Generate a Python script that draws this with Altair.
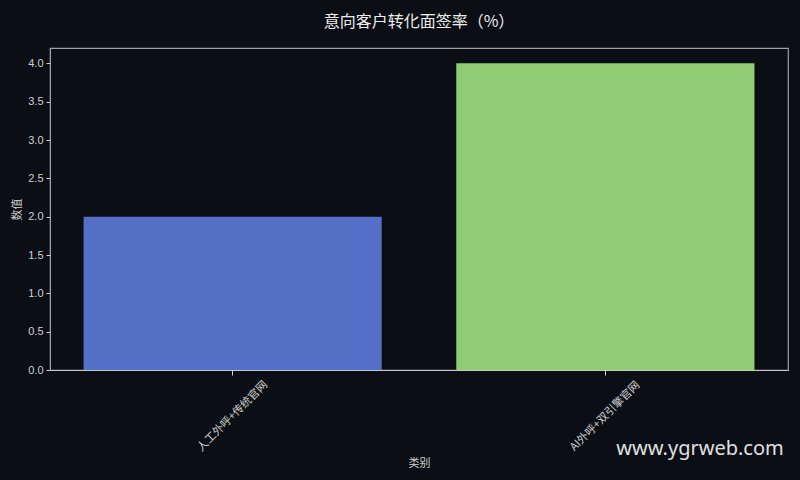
import altair as alt
import pandas as pd
import jinja2

categories = ["人工外呼+传统官网", "AI外呼+双引擎官网"]
values = [2.0, 4.0]
colors = ["#5470c6", "#91cc75"]
y_ticks = [0, 0.5, 1, 1.5, 2, 2.5, 3, 3.5, 4]

df = pd.DataFrame({"类别": categories, "数值": values})

BG = "#0b0e14"
FG = "#d0d0d0"
CJK = "Noto Sans CJK SC"

bars = alt.Chart(df).mark_bar().encode(
    x=alt.X("类别:N", sort=categories,
            scale=alt.Scale(paddingInner=0.2, paddingOuter=0.09),
            axis=alt.Axis(title="类别", labelAngle=-45, labelAlign="center", labelBaseline="middle",
                          labelFont=CJK, labelFontSize=11,
                          labelColor=FG, titleFont=CJK, titleFontSize=11, titleColor=FG,
                          titleFontWeight="normal", tickColor=FG, domainColor="#c8c8c8",
                          tickSize=5, labelPadding=41, titlePadding=5)),
    y=alt.Y("数值:Q", scale=alt.Scale(domain=[0, 4.2], nice=False),
            axis=alt.Axis(title="数值", values=y_ticks, format=".1f",
                          labelFont="Liberation Sans", labelFontSize=11, labelColor=FG,
                          titleFont=CJK, titleFontSize=11, titleColor=FG, titleFontWeight="normal",
                          tickColor=FG, domainColor="#a0a0a0", grid=False, tickSize=4,
                          labelPadding=3, titlePadding=5)),
    color=alt.Color("类别:N", scale=alt.Scale(domain=categories, range=colors), legend=None),
)

mark_text = alt.Chart(pd.DataFrame({"t": ["www.ygrweb.com"]})).mark_text(
    font="Noto Sans", fontSize=20, color="#e0e0e0", align="center", baseline="middle"
).encode(text="t:N", x=alt.value(650), y=alt.value(401))

chart = alt.layer(bars, mark_text).properties(
    width=738, height=322,
    background=BG,
    padding={"left": 50, "top": 48, "right": 12, "bottom": 110},
    autosize=alt.AutoSizeParams(type="none"),
    title=alt.TitleParams("意向客户转化面签率（%）", font="Noto Sans CJK JP", fontSize=16,
                          color="#ececec", fontWeight="normal", anchor="middle", offset=18),
).configure_view(stroke="#a0a0a0", strokeWidth=1.2, fill=BG)

PAGE = jinja2.Template("""<!DOCTYPE html>
<html>
<head>
  <style>
    html, body { margin: 0; padding: 0; background: #0b0e14; overflow: hidden; }
    #{{ output_div }}.vega-embed { width: 100%; display: flex; }
  </style>
  <script type="text/javascript" src="{{ base_url }}/vega@{{ vega_version }}"></script>
  <script type="text/javascript" src="{{ base_url }}/vega-lite@{{ vegalite_version }}"></script>
  <script type="text/javascript" src="{{ base_url }}/vega-embed@{{ vegaembed_version }}"></script>
</head>
<body>
  <div id="{{ output_div }}"></div>
  <script>
    var spec = {{ spec }};
    var embedOpt = {{ embed_options }};
    vegaEmbed("#{{ output_div }}", spec, embedOpt).catch(console.error);
  </script>
</body>
</html>
""")

chart.save("out.html", embed_options={"renderer": "svg", "actions": False}, template=PAGE)
